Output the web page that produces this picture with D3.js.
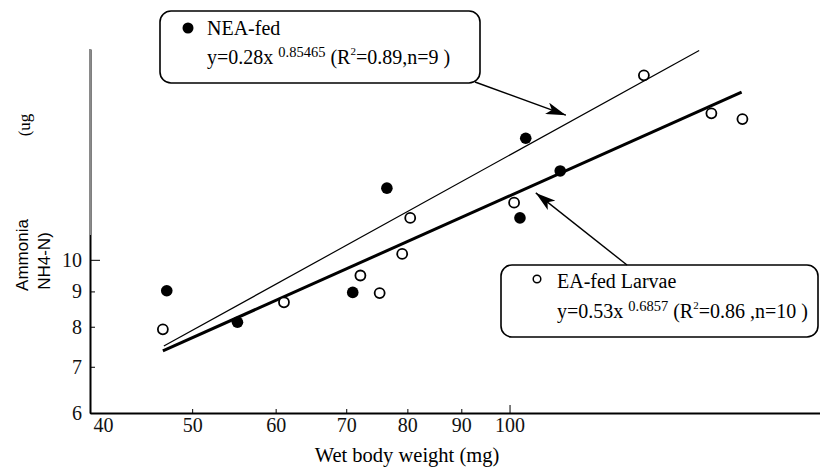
<!DOCTYPE html>
<html>
<head>
<meta charset="utf-8">
<script src="https://cdn.jsdelivr.net/npm/d3@7/dist/d3.min.js"></script>
<style>
  body { margin: 0; background: #fff; }
  svg { display: block; }
</style>
</head>
<body>
<div id="chart"></div>
<script>
// values (log-log plot)
var xTicks = [40, 50, 60, 70, 80, 90, 100];
var yTicks = [6, 7, 8, 9, 10];

// NEA-fed (filled dots)
var neaX = [47.3, 55.2, 71.0, 76.5, 102.3, 103.6, 111.7];
var neaY = [9.02, 8.12, 8.97, 12.7, 11.5, 15.0, 13.45];

// EA-fed larvae (open circles)
var eaX = [46.9, 61.1, 72.2, 75.3, 79.1, 80.5, 101.0, 134.1, 155.4, 166.3];
var eaY = [7.93, 8.68, 9.49, 8.95, 10.2, 11.5, 12.1, 18.5, 16.3, 15.99];

// regression lines, end points
var neaFitX = [47.0, 151.3];
var neaFitY = [7.5, 20.1];
var eaFitX = [46.9, 166.0];
var eaFitY = [7.38, 17.5];

function createChart() {
    var w = 820;
    var h = 471;
    var serif = '"Liberation Serif", "Times New Roman", serif';

    var x = d3.scaleLog().domain([40, 197]).range([90, 820]);
    var y = d3.scaleLog().domain([6, 20.2]).range([413, 49]);

    var svg = d3.select('#chart')
        .append('svg')
        .attr('width', w)
        .attr('height', h);

    svg.append('defs').append('marker')
        .attr('id', 'head')
        .attr('markerUnits', 'userSpaceOnUse')
        .attr('viewBox', '0 0 20 12')
        .attr('refX', 20)
        .attr('refY', 6)
        .attr('markerWidth', 20)
        .attr('markerHeight', 12)
        .attr('orient', 'auto')
        .append('path')
        .attr('d', 'M0,0 L20,6 L0,12 L5,6 Z')
        .attr('fill', '#000');

    // x axis
    var xAxis = svg.append('g')
        .attr('transform', 'translate(0,413)')
        .call(d3.axisBottom(x)
            .tickValues(xTicks)
            .tickFormat(d3.format('d'))
            .tickSize(-4)
            .tickSizeOuter(0)
            .tickPadding(5));
    xAxis.select('.domain').attr('stroke-width', 2);
    xAxis.selectAll('.tick line').attr('y2', function(d) { return d === 100 ? -8 : -4; });
    xAxis.selectAll('.tick text')
        .attr('font-size', '20px')
        .attr('font-family', serif)
        .attr('fill', '#111')
        .attr('dx', function(d) { return d === 40 ? 13 : 0; });

    // y axis
    var yAxis = svg.append('g')
        .attr('transform', 'translate(90,0)')
        .call(d3.axisLeft(y)
            .tickValues(yTicks)
            .tickFormat(d3.format('d'))
            .tickSize(-5)
            .tickSizeOuter(0)
            .tickPadding(8));
    yAxis.select('.domain').attr('stroke-width', 2);
    yAxis.selectAll('.tick line').attr('x2', function(d) { return d === 10 ? 10 : 5; });
    yAxis.selectAll('.tick text')
        .attr('font-size', '20px')
        .attr('font-family', serif)
        .attr('fill', '#111');
    // upper part of the y axis is lighter in the scan
    svg.append('line')
        .attr('x1', 90).attr('x2', 90)
        .attr('y1', 49).attr('y2', 235)
        .attr('stroke', '#8a8a8a')
        .attr('stroke-width', 2);

    // axis titles
    svg.append('text')
        .text('Wet body weight (mg)')
        .attr('x', 407)
        .attr('y', 462)
        .attr('text-anchor', 'middle')
        .attr('font-family', serif)
        .attr('font-size', '20.5px');

    svg.append('text')
        .text('Ammonia')
        .attr('transform', 'translate(28,255) rotate(-90)')
        .attr('text-anchor', 'middle')
        .attr('font-family', '"Liberation Sans", Arial, sans-serif')
        .attr('font-size', '17px');
    svg.append('text')
        .text('NH4-N)')
        .attr('transform', 'translate(50,261) rotate(-90)')
        .attr('text-anchor', 'middle')
        .attr('font-family', '"Liberation Sans", Arial, sans-serif')
        .attr('font-size', '17px');
    svg.append('text')
        .text('(ug')
        .attr('transform', 'translate(30,125) rotate(-90)')
        .attr('text-anchor', 'middle')
        .attr('font-family', serif)
        .attr('font-size', '17px');

    // fit lines
    var line = d3.line()
        .x(function(d) { return x(d[0]); })
        .y(function(d) { return y(d[1]); });

    svg.append('path')
        .datum(d3.zip(neaFitX, neaFitY))
        .attr('d', line)
        .attr('fill', 'none')
        .attr('stroke', '#000')
        .attr('stroke-width', 1.2);

    svg.append('path')
        .datum(d3.zip(eaFitX, eaFitY))
        .attr('d', line)
        .attr('fill', 'none')
        .attr('stroke', '#000')
        .attr('stroke-width', 3);

    // points
    svg.selectAll('circle.ea')
        .data(d3.zip(eaX, eaY))
        .enter()
        .append('circle')
        .attr('class', 'ea')
        .attr('cx', function(d) { return x(d[0]); })
        .attr('cy', function(d) { return y(d[1]); })
        .attr('r', 5)
        .attr('fill', '#fff')
        .attr('stroke', '#000')
        .attr('stroke-width', 1.8);

    svg.selectAll('circle.nea')
        .data(d3.zip(neaX, neaY))
        .enter()
        .append('circle')
        .attr('class', 'nea')
        .attr('cx', function(d) { return x(d[0]); })
        .attr('cy', function(d) { return y(d[1]); })
        .attr('r', 5.8)
        .attr('fill', '#000');

    // callout boxes
    function equation(px, py, coef, expo, r2, n) {
        var t = svg.append('text')
            .attr('x', px).attr('y', py)
            .attr('font-family', serif)
            .attr('font-size', '20px');
        t.append('tspan').text('y=' + coef + 'x ');
        t.append('tspan').text(expo).attr('font-size', '14.5px').attr('dy', -7);
        t.append('tspan').text(' (R').attr('dy', 7);
        t.append('tspan').text('2').attr('font-size', '11px').attr('dy', -9);
        t.append('tspan').text('=' + r2 + ',n=' + n + ' )').attr('dy', 9);
    }

    svg.append('rect')
        .attr('x', 160).attr('y', 11)
        .attr('width', 320).attr('height', 72)
        .attr('rx', 11)
        .attr('fill', '#fff')
        .attr('stroke', '#000')
        .attr('stroke-width', 1.6);
    svg.append('circle')
        .attr('cx', 188).attr('cy', 28).attr('r', 5.5)
        .attr('fill', '#000');
    svg.append('text')
        .text('NEA-fed')
        .attr('x', 207).attr('y', 35)
        .attr('font-family', serif)
        .attr('font-size', '20px');
    equation(207, 64, '0.28', '0.85465', '0.89', '9');

    svg.append('rect')
        .attr('x', 501).attr('y', 265)
        .attr('width', 317).attr('height', 72)
        .attr('rx', 11)
        .attr('fill', '#fff')
        .attr('stroke', '#000')
        .attr('stroke-width', 1.6);
    svg.append('circle')
        .attr('cx', 537).attr('cy', 279).attr('r', 3.8)
        .attr('fill', '#fff')
        .attr('stroke', '#000')
        .attr('stroke-width', 1.5);
    svg.append('text')
        .text('EA-fed Larvae')
        .attr('x', 557).attr('y', 288)
        .attr('font-family', serif)
        .attr('font-size', '20px');
    equation(557, 318, '0.53', '0.6857', '0.86 ', '10');

    // arrows from the boxes to the lines
    svg.append('line')
        .attr('x1', 475).attr('y1', 82)
        .attr('x2', x(113.1)).attr('y2', y(16.2))
        .attr('stroke', '#000')
        .attr('stroke-width', 1.4)
        .attr('marker-end', 'url(#head)');
    svg.append('line')
        .attr('x1', 627).attr('y1', 265)
        .attr('x2', x(105.9)).attr('y2', y(12.5))
        .attr('stroke', '#000')
        .attr('stroke-width', 1.4)
        .attr('marker-end', 'url(#head)');
}

createChart();
</script>
</body>
</html>
